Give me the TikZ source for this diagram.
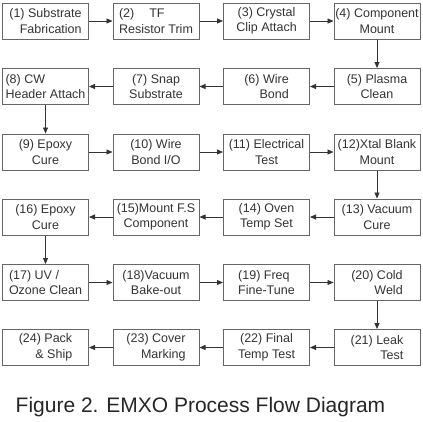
\documentclass[tikz,border=0pt]{standalone}
\usepackage{fontspec}
\setmainfont{Liberation Sans}
\usetikzlibrary{arrows.meta}
\definecolor{boxgray}{HTML}{666666}
\definecolor{txtgray}{HTML}{333333}

\tikzset{
  stepbox/.style={draw=boxgray,line width=1pt,minimum width=86pt,minimum height=36pt,
    inner sep=1pt,align=center,text=txtgray,font=\fontsize{12.5}{15.5}\selectfont},
  flow/.style={draw=txtgray,line width=0.8pt,-{Triangle[length=6pt,width=5pt]}}
}

\begin{document}
\begin{tikzpicture}[x=1pt,y=-1pt]
\useasboundingbox (0,0) rectangle (423,421);
% row 1
\node[stepbox,align=right] (s1) at (45.5,21) {(1) Substrate\\Fabrication};
\node[stepbox,align=left] (s2) at (156,21) {(2)\hspace{1.2em}TF\\Resistor Trim};
\node[stepbox] (s3) at (266.5,21) {(3) Crystal\\Clip Attach};
\node[stepbox] (s4) at (377,21) {(4) Component\\Mount};
% row 2
\node[stepbox] (s5) at (377,86.5) {(5) Plasma\\Clean};
\node[stepbox,align=right] (s6) at (266.5,86.5) {(6) Wire\\Bond};
\node[stepbox] (s7) at (156,86.5) {(7) Snap\\Substrate};
\node[stepbox,align=left] (s8) at (45.5,86.5) {(8) CW\\Header Attach};
% row 3
\node[stepbox] (s9) at (45.5,152) {(9) Epoxy\\Cure};
\node[stepbox] (s10) at (156,152) {(10) Wire\\Bond I/O};
\node[stepbox] (s11) at (266.5,152) {(11) Electrical\\Test};
\node[stepbox] (s12) at (377,152) {(12)Xtal Blank\\Mount};
% row 4
\node[stepbox] (s13) at (377,217) {(13) Vacuum\\Cure};
\node[stepbox] (s14) at (266.5,217) {(14) Oven\\Temp Set};
\node[stepbox] (s15) at (156,217) {(15)Mount F.S\\Component};
\node[stepbox] (s16) at (45.5,217) {(16) Epoxy\\Cure};
% row 5
\node[stepbox,align=left] (s17) at (45.5,282.5) {(17) UV /\\Ozone Clean};
\node[stepbox] (s18) at (156,282.5) {(18)Vacuum\\Bake-out};
\node[stepbox,align=left] (s19) at (266.5,282.5) {(19) Freq\\Fine-Tune};
\node[stepbox,align=right] (s20) at (377,282.5) {(20) Cold\\Weld};
% row 6
\node[stepbox,align=right] (s21) at (377,347.5) {(21) Leak\\Test};
\node[stepbox] (s22) at (266.5,347.5) {(22) Final\\Temp Test};
\node[stepbox,align=right] (s23) at (156,347.5) {(23) Cover\\Marking};
\node[stepbox,align=right] (s24) at (45.5,347.5) {(24) Pack\\\& Ship};
% connectors
\foreach \a/\b in {1/2,2/3,3/4,4/5,5/6,6/7,7/8,8/9,9/10,10/11,11/12,12/13,
  13/14,14/15,15/16,16/17,17/18,18/19,19/20,20/21,21/22,22/23,23/24}
  \draw[flow] (s\a) -- (s\b);
% caption
\node[font=\fontsize{21}{24}\selectfont,text=black!85] (cap) at (200.5,407) {Figure 2. EMXO Process Flow Diagram};
\end{tikzpicture}
\end{document}
